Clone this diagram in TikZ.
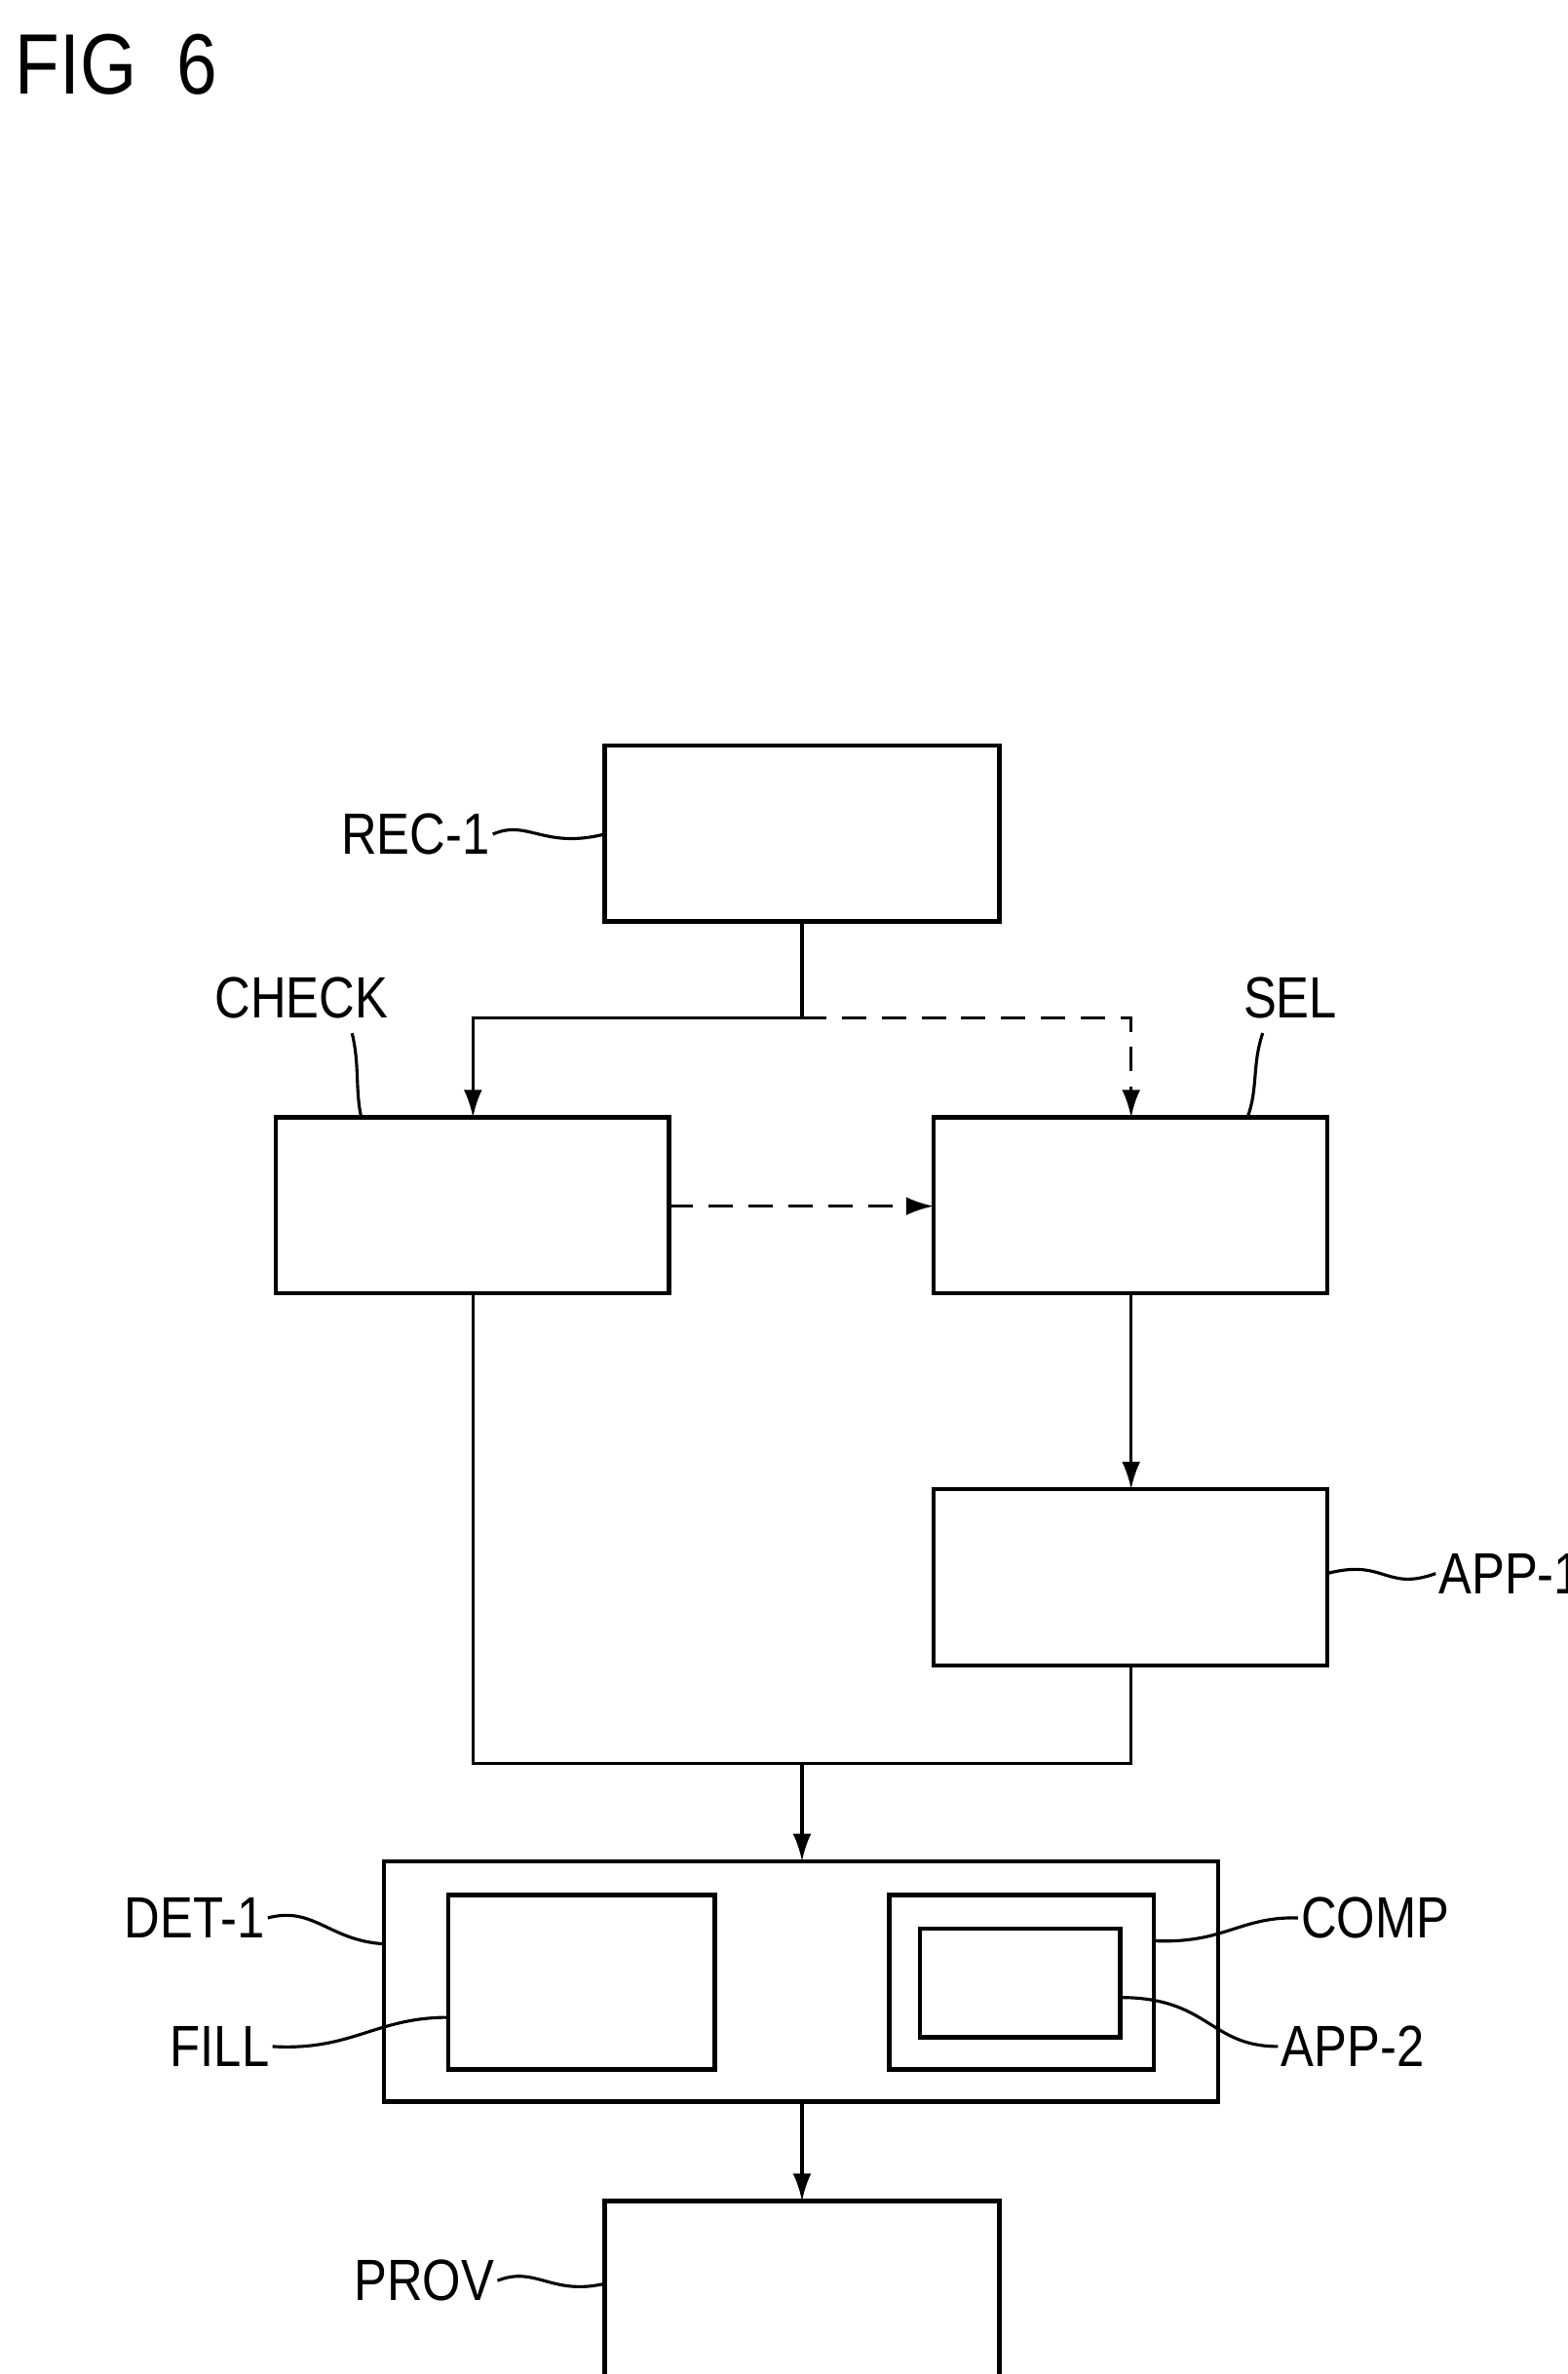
\documentclass[tikz,border=0pt]{standalone}
\usepackage{fontspec}
\setmainfont{Liberation Sans}
\usetikzlibrary{positioning,arrows.meta}
\tikzset{
  blk/.style={draw,thick,line width=1.4pt},
  lbl/.style={font=\fontsize{19}{20}\selectfont,inner sep=1pt,xscale=0.85},
  lead/.style={line width=1pt},
  flow/.style={line width=1pt,-{Latex[length=9pt,width=6pt]}},
  dflow/.style={flow,dash pattern=on 8pt off 5pt}
}
\begin{document}
\begin{tikzpicture}[x=0.5pt,y=-0.5pt]
	\useasboundingbox (0,0) rectangle (1024,1551);
	\node[lbl,font=\fontsize{28}{30}\selectfont,anchor=west] (fig) at (8,42) {FIG\ \ 6};
	% boxes
	\draw[blk] (395,487) rectangle (653,602) coordinate (rec1br);
	\coordinate (rec1) at (524,602);
	\draw[blk] (180,730) rectangle (437,845);
	\draw[blk] (610,730) rectangle (867,845);
	\draw[blk] (610,973) rectangle (867,1088);
	\draw[blk] (251,1216) rectangle (796,1373);
	\draw[blk] (293,1238) rectangle (467,1352);
	\draw[blk] (581,1238) rectangle (754,1352);
	\draw[blk] (601,1260) rectangle (732,1331);
	\draw[blk] (395,1438) rectangle (653,1553);
	% connectors
	\coordinate (split) at (524,665);
	\draw[lead] (rec1) -- (split);
	\draw[flow] (split) -| (309,730);
	\draw[dflow] (split) -| (739,730);
	\draw[dflow] (437,788) -- (610,788);
	\draw[flow] (739,845) -- (739,973);
	\coordinate (join) at (524,1152);
	\draw[lead] (309,845) |- (join) -| (739,1088);
	\draw[flow] (join) -- (524,1216);
	\draw[flow] (524,1373) -- (524,1438);
	% labels
	\node[lbl,anchor=east] (reclbl) at (322,545) {REC-1};
	\draw[lead] (reclbl.east) .. controls (345,535) and (355,555) .. (395,545);
	\node[lbl] (checklbl) at (197,652) {CHECK};
	\draw[lead] (230,675) .. controls (235,695) and (232,712) .. (236,730);
	\node[lbl] (sellbl) at (843,652) {SEL};
	\draw[lead] (825,675) .. controls (818,695) and (822,712) .. (815,730);
	\node[lbl,anchor=west] (app1lbl) at (938,1028) {APP-1};
	\draw[lead] (867,1028) .. controls (905,1018) and (905,1040) .. (app1lbl.west);
	\node[lbl,anchor=east] (detlbl) at (175,1253) {DET-1};
	\draw[lead] (detlbl.east) .. controls (205,1245) and (215,1268) .. (251,1270);
	\node[lbl,anchor=east] (filllbl) at (178,1337) {FILL};
	\draw[lead] (filllbl.east) .. controls (230,1340) and (245,1318) .. (293,1318);
	\node[lbl,anchor=west] (complbl) at (848,1253) {COMP};
	\draw[lead] (754,1268) .. controls (800,1270) and (810,1252) .. (complbl.west);
	\node[lbl,anchor=west] (app2lbl) at (835,1337) {APP-2};
	\draw[lead] (732,1305) .. controls (790,1305) and (790,1337) .. (app2lbl.west);
	\node[lbl,anchor=east] (provlbl) at (325,1490) {PROV};
	\draw[lead] (provlbl.east) .. controls (350,1480) and (360,1500) .. (395,1492);
\end{tikzpicture}
\end{document}
